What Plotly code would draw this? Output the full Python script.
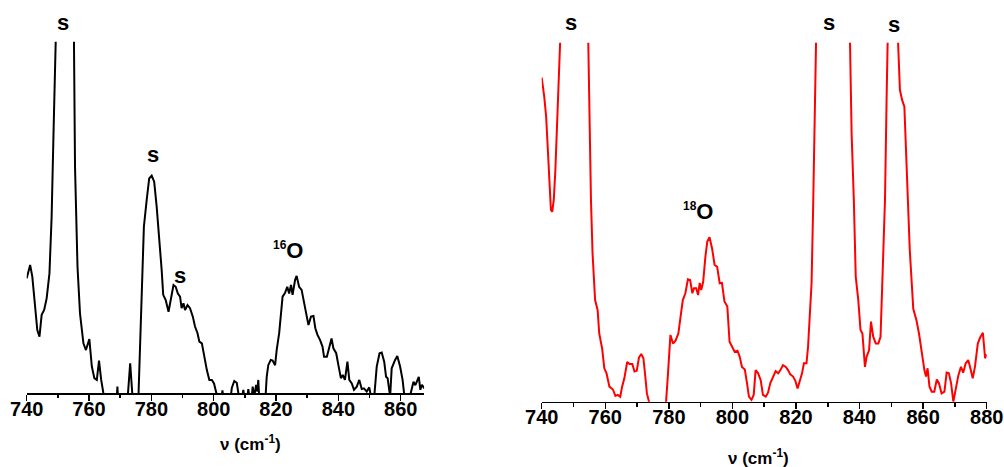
import plotly.graph_objects as go

# ---------------- data ----------------
# Left panel (16O sample), black trace
left_x = [740, 741.1, 741.8, 742.7, 743.4, 744.1, 744.8, 745.6, 746.4, 747.3, 748.0, 748.6,
          749.0, 749.6, 752.0, 754.6, 755.1, 755.5, 756.3, 757.1, 758.2, 759.0, 760.1, 760.9,
          761.7, 762.5, 763.2, 763.9, 764.8, 766.0, 768.5, 769.1, 769.6, 772.0, 773.2, 774.1,
          775.6, 776.4, 777.2, 777.6, 778.5, 779.3, 780.1, 780.9, 781.7, 782.6, 783.3, 783.8,
          784.6, 785.5, 786.2, 787.1, 787.8, 788.5, 789.2, 789.7, 790.3, 790.8, 791.6, 792.4,
          793.3, 794.0, 794.8, 795.4, 796.2, 796.7, 797.2, 797.8, 798.6, 799.4, 800.1, 801.0,
          802.2, 802.8, 803.3, 805.2, 805.8, 806.6, 807.4, 808.0, 809.0, 809.5, 810.0, 810.7,
          811.1, 811.6, 812.2, 812.5, 813.0, 813.6, 814.0, 814.3, 814.7, 816.5, 817.0, 817.5,
          818.3, 818.9, 819.7, 820.2, 821.0, 821.6, 822.1, 822.9, 823.6, 824.2, 824.8, 825.3,
          826.1, 826.6, 827.4, 828.2, 829.0, 829.6, 830.4, 831.2, 832.0, 832.6, 833.3, 834.1,
          834.9, 835.4, 836.3, 837.0, 837.8, 838.4, 839.3, 840.0, 840.8, 841.4, 842.1, 842.9,
          843.5, 844.3, 845.0, 845.9, 846.7, 847.5, 848.2, 849.1, 849.9, 850.5, 851.5, 852.3,
          853.2, 853.9, 854.7, 855.3, 855.8, 856.6, 857.1, 858.2, 858.9, 859.8, 860.6, 861.2,
          862.5, 863.2, 864.1, 864.7, 865.3, 865.8, 866.3, 866.8, 867.6]
left_y = [32.7, 36.5, 33.2, 24.6, 18.0, 16.1, 22.3, 23.7, 27.0, 34.1, 50.2, 73.9,
          105, 160, 200, 160, 105, 64.5, 36, 22.7, 14.2, 12.3, 15.4, 7.6,
          4.3, 3.8, 9.3, 3.8, -1, -8, -8, 1.9, -6, -6, 8.5, -3,
          -8, 17, 36, 47.4, 55, 61.1, 61.9, 60.2, 53.1, 43.6, 35.1, 28,
          26.5, 23.2, 27, 30.8, 30.3, 28.4, 27.5, 24.2, 25.6, 23.7, 25.1, 24.2,
          21.8, 19, 17.1, 14.7, 14.2, 11.4, 9, 6.6, 3.8, 3.8, 2.8, -0.5,
          -3, 0.8, -3, -3, 1.5, 3.5, 3, -0.5, -2, 1, -2, -2,
          1.2, -2, -1, 1.9, -1, 2.4, 0.5, 3.8, -3, -3, 4.7, 8,
          9.5, 9.3, 8, 12.3, 17.1, 23.2, 27.5, 28.6, 30.3, 28.4, 30.8, 28,
          32.2, 33.4, 30.3, 29.4, 26.1, 23.2, 19.4, 21.8, 22, 18.5, 16.6, 15.2,
          13.3, 10.4, 10.4, 12.8, 15.6, 12.8, 11.4, 8, 4.3, 5.2, 3.8, 9,
          3.8, 2.8, 1, 1.9, 3.8, 1.2, 1.4, 0.5, 1.7, -1, -1, 7.6,
          11.4, 11.6, 9, 4.7, 4.3, -1, 7.1, 9.5, 10.6, 7.6, 3.8, -1,
          -3, 0, 3.3, 2.3, 3.8, 4.7, 1, 2.4, 1.4]

# Right panel (18O sample), red trace
right_x = [740, 740.8, 741.4, 741.9, 742.4, 742.9, 743.3, 743.8, 744.3, 744.7, 745.2, 745.6,
           746.5, 750.0, 753.5, 754.5, 755.0, 755.5, 756.0, 756.8, 757.6, 758.1, 759.0, 759.7,
           760.4, 761.3, 762.4, 763.2, 763.9, 764.7, 765.3, 766.0, 766.9, 767.6, 768.5, 769.2,
           769.9, 770.6, 771.3, 772.0, 772.6, 773.1, 773.9, 775.0, 778.5, 779.2, 779.7, 780.5,
           781.3, 782.1, 783.0, 783.9, 784.4, 785.2, 786.0, 786.7, 787.4, 787.9, 788.6, 789.2,
           789.7, 790.2, 790.8, 791.5, 792.1, 792.8, 793.6, 794.4, 795.2, 796.0, 796.7, 797.5,
           798.4, 799.1, 799.9, 800.7, 801.6, 802.3, 803.0, 803.9, 804.6, 805.2, 806.0, 806.7,
           807.3, 808.1, 808.9, 809.6, 810.5, 811.2, 811.9, 812.8, 813.6, 814.4, 815.1, 815.9,
           816.8, 817.5, 818.2, 819.1, 819.8, 820.5, 821.2, 821.9, 822.5, 823.3, 823.8, 824.3,
           824.9, 825.4, 825.9, 826.4, 827.5, 832.0, 836.0, 836.9, 837.5, 838.2, 838.8, 839.6,
           840.3, 840.9, 841.7, 842.2, 843.0, 843.6, 844.3, 845.1, 845.9, 846.6, 847.2, 848.0,
           848.5, 849.0, 849.5, 850.5, 851.4, 851.9, 852.7, 853.4, 854.1, 854.8, 855.8, 856.9,
           857.9, 858.7, 859.5, 860.4, 860.9, 861.4, 862.0, 862.7, 863.5, 864.3, 865.0, 865.8,
           866.7, 867.4, 868.1, 868.8, 869.5, 870.3, 871.1, 871.9, 872.6, 873.4, 874.2, 875.0,
           875.6, 876.3, 877.2, 877.9, 878.8, 879.5, 880.0]
right_y = [90.3, 85, 79.4, 70.1, 59.9, 53.4, 52.9, 56.2, 64.5, 74.7, 88.7, 105,
           160, 200, 160, 105, 74.7, 56.2, 41.3, 28.3, 25.5, 19, 14.9, 9.3,
           7.9, 4.2, 3.4, 1.6, 1.9, 1.4, 4.2, 6.5, 11.1, 10.5, 10.5, 8.4,
           8.6, 12.3, 13.3, 12.1, 7, 2.3, -0.5, -8, -8, -0.5, 7.4, 18.6,
           16.2, 17, 19, 25.1, 28.3, 30.2, 34.1, 33.9, 30.2, 31.6, 31.6, 29.7,
           33.1, 31.1, 33.4, 40.4, 44.6, 45.8, 42.7, 38.1, 37.6, 33, 33.1, 27.9,
           26.5, 16.7, 15.3, 13.9, 14.2, 12.5, 9.7, 9, 5.1, 1.4, 0.5, 1.9,
           8.8, 7.9, 6, 1.9, 1.4, 2.5, 5.1, 7, 8.5, 7.9, 8.8, 10.2,
           9.7, 8.8, 7.6, 7, 5.8, 3.7, 5.6, 7.9, 10.7, 10.7, 15.3, 22.7,
           33, 54.3, 76.6, 105, 160, 200, 160, 105, 74.7, 56.2, 34.8, 28.3,
           20, 19, 9.7, 12.5, 14.4, 22.3, 18.1, 16.2, 16.2, 18.1, 33, 56.2,
           84, 105, 150, 180, 150, 105, 86.8, 84, 82.2, 65.4, 42.2, 25.9,
           22.7, 19, 13.5, 8.8, 7, 9.3, 4.2, 2.8, 2.8, 6.2, 5.1, 2.3,
           2.8, 8.1, 7.9, 5.1, 0, 4.2, 7.4, 9.7, 8.1, 10.7, 11.6, 8.8,
           6.5, 9.7, 16.2, 17.8, 19.2, 12.1, 13.2]

tick_vals = [740, 760, 780, 800, 820, 840, 860, 880]
tick_text = ["740", "760", "780", "800", "820", "840", "860", "880"]
x_title = "ν (cm<sup>-1</sup>)"

# annotation labels: (text, x_px, y_px)
labels_left = [("s", 63, 22), ("s", 153, 154), ("s", 180, 275),
               ("<sup><span style='font-size:12px'>16</span></sup>O", 288, 251)]
labels_right = [("s", 571, 22), ("s", 829, 22), ("s", 894, 25),
                ("<sup><span style='font-size:12px'>18</span></sup>O", 698, 211)]

W, H = 1004, 467
FONT = "Liberation Sans, Arial, sans-serif"

fig = go.Figure()
fig.add_trace(go.Scatter(x=left_x, y=left_y, mode="lines",
                         line=dict(color="black", width=2), xaxis="x", yaxis="y",
                         showlegend=False, hoverinfo="skip"))
fig.add_trace(go.Scatter(x=right_x, y=right_y, mode="lines",
                         line=dict(color="#ff0000", width=2), xaxis="x2", yaxis="y2",
                         showlegend=False, hoverinfo="skip"))

def xaxis_style(domain, rng, anchor):
    return dict(domain=domain, range=rng, anchor=anchor, automargin=False,
                showline=True, linecolor="black", linewidth=1.5,
                ticks="outside", ticklen=6, tickwidth=1.5, tickcolor="black",
                tickvals=tick_vals, ticktext=tick_text,
                minor=dict(ticks="outside", ticklen=3.5, tickwidth=1.5, tickcolor="black", dtick=10, tick0=740),
                showgrid=False, zeroline=False,
                tickfont=dict(family=FONT, size=20, color="black", weight="bold"),
                ticklabeloverflow="allow", ticklabelstandoff=-9,
                fixedrange=True)

def yaxis_style(domain, anchor):
    return dict(domain=domain, range=[0, 100], anchor=anchor, visible=False, automargin=False,
                showgrid=False, zeroline=False, fixedrange=True)

fig.update_layout(
    width=W, height=H, autosize=False,
    margin=dict(l=0, r=0, t=0, b=0, pad=0, autoexpand=False),
    paper_bgcolor="white", plot_bgcolor="white",
    xaxis=xaxis_style([26.7 / W, 424.1 / W], [740, 867.5], "y"),
    yaxis=yaxis_style([1 - 393.3 / H, 1 - 41.7 / H], "x"),
    xaxis2=xaxis_style([541.7 / W, 986.7 / W], [740, 880], "y2"),
    yaxis2=yaxis_style([1 - 401.7 / H, 1 - 42.7 / H], "x2"),
)

annotations = []
for text, px, py in labels_left + labels_right:
    annotations.append(dict(text=text, x=px / W, y=1 - py / H, xref="paper", yref="paper",
                            xanchor="center", yanchor="middle", showarrow=False,
                            font=dict(family=FONT, size=22, color="black", weight="bold")))
for px, py in [(250, 443), (758, 457)]:
    annotations.append(dict(text=x_title, x=px / W, y=1 - py / H, xref="paper", yref="paper",
                            xanchor="center", yanchor="middle", showarrow=False,
                            font=dict(family=FONT, size=17, color="black", weight="bold")))
fig.update_layout(annotations=annotations)

fig.write_html("out.html", config={"displayModeBar": False, "staticPlot": True},
               post_script="document.documentElement.style.overflow='hidden';"
                           "document.body.style.overflow='hidden';"
                           "document.body.style.margin='0';")
